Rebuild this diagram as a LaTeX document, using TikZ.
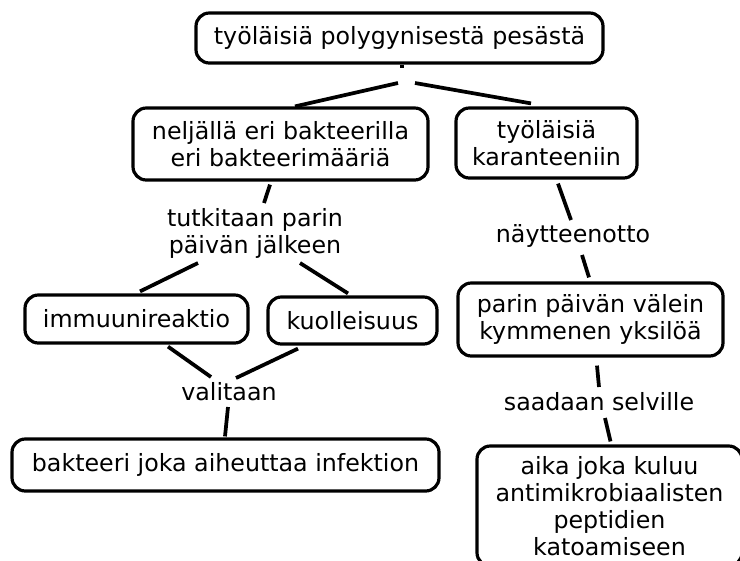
\documentclass[tikz,border=0pt]{standalone}
\usepackage{fontspec}
\setmainfont{DejaVu Sans}
\usetikzlibrary{calc}
\newcommand\cfont{\fontsize{17.8}{20.3}\selectfont}
\begin{document}
\begin{tikzpicture}[x=0.75pt,y=-0.75pt,
  concept/.style={draw, line width=2.4pt, rounded corners=10pt, align=center, inner sep=0pt, font=\cfont},
  sz/.style n args={2}{minimum width=#1*0.75pt, minimum height=#2*0.75pt},
  lbl/.style={align=center, font=\cfont, inner sep=0pt},
  conn/.style={line width=2.8pt}]
\useasboundingbox (0,0) rectangle (740,561);
\clip (0,0) rectangle (740,561);
% concepts
\node[concept, sz={407}{50}] (top) at (399.5,38) {työläisiä polygynisestä pesästä};
\node[concept, sz={295}{72}] (left) at (280.5,144) {neljällä eri bakteerilla\\eri bakteerimääriä};
\node[concept, sz={181}{70}] (right) at (546.5,143) {työläisiä\\karanteeniin};
\node[concept, sz={223}{48}] (imm) at (136.5,319) {immuunireaktio};
\node[concept, sz={169}{47}] (kuo) at (352.5,320.5) {kuolleisuus};
\node[concept, sz={427}{52}] (bot) at (225.5,465) {bakteeri joka aiheuttaa infektion};
\node[concept, sz={265}{73}] (parin) at (590.5,319.5) {parin päivän välein\\kymmenen yksilöä};
\node[concept, sz={265}{120}] (aika) at (609.5,506) {aika joka kuluu\\antimikrobiaalisten\\peptidien\\katoamiseen};
% linking phrases
\coordinate (J) at (406,75);
\node[lbl] (tut) at (255,233) {tutkitaan parin\\päivän jälkeen};
\node[lbl] (val) at (229,392) {valitaan};
\node[lbl] (nay) at (573,236) {näytteenotto};
\node[lbl] (saa) at (599,402) {saadaan selville};
% connectors
\draw[conn] ($(top.south)+(2.5,0)$) -- ($(J)+(-4,-7)$);
\draw[conn] ($(J)+(-8,8)$) -- ($(left.north)+(14.5,0)$);
\draw[conn] ($(J)+(9,8)$) -- ($(right.north)+(-15.5,-3)$);
\draw[conn] ($(left.south)+(-10.5,3)$) -- ($(tut)+(9,-30)$);
\draw[conn] ($(tut)+(-57,30)$) -- ($(imm.north)+(3.5,-2)$);
\draw[conn] ($(tut)+(45,30)$) -- ($(kuo.north)+(-4.5,-2)$);
\draw[conn] ($(imm.south)+(31.5,2)$) -- ($(val)+(-18,-15)$);
\draw[conn] ($(kuo.south)+(-54.5,3)$) -- ($(val)+(7,-14)$);
\draw[conn] ($(val)+(-1,15)$) -- ($(bot.north)+(-0.5,-1)$);
\draw[conn] ($(right.south)+(11.5,4)$) -- ($(nay)+(-2,-16)$);
\draw[conn] ($(nay)+(9,19)$) -- ($(parin.north)+(-1.5,-4)$);
\draw[conn] ($(parin.south)+(6.5,8)$) -- ($(saa)+(0,-15)$);
\draw[conn] ($(saa)+(6,16)$) -- ($(aika.north)+(1,-3)$);
\end{tikzpicture}
\end{document}
